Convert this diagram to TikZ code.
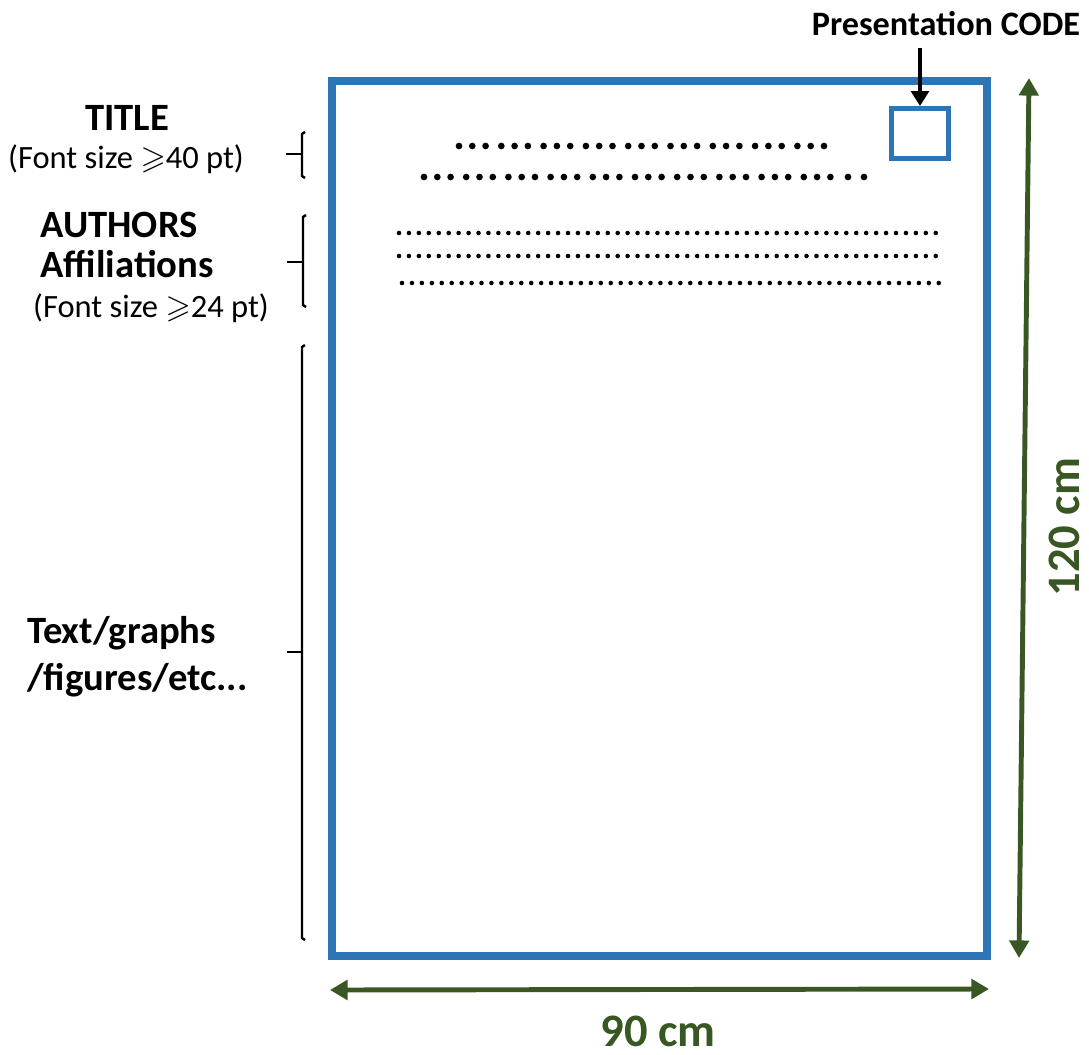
\documentclass[tikz,border=0pt]{standalone}
\usepackage{amssymb}
\usepackage{fontspec}
\setmainfont{Carlito}
\usetikzlibrary{arrows.meta,positioning}
\definecolor{posterblue}{RGB}{46,117,182}
\definecolor{dimgreen}{RGB}{56,87,35}

\begin{document}
\begin{tikzpicture}[x=0.02cm,y=-0.02cm,
	lbl/.style={inner sep=0pt,anchor=base,font=\fontsize{22}{26.6}\selectfont\bfseries},
	sz/.style={inner sep=0pt,anchor=base,font=\fontsize{18.5}{22}\selectfont},
	brk/.style={line width=1.4pt},
	dim/.style={dimgreen,line width=2.8pt,{Triangle[length=10pt,width=11pt]}-{Triangle[length=10pt,width=11pt]}},
	dimlbl/.style={inner sep=0pt,dimgreen,font=\fontsize{26.5}{30}\selectfont\bfseries}]
\useasboundingbox (0,0) rectangle (1089,1055);
%poster sheet
\draw [posterblue,line width=4.5pt] (332,81) rectangle (987,956);
\node [draw=posterblue,line width=2.8pt,minimum width=1.14cm,minimum height=1cm,inner sep=0pt] (code) at (920,133.5) {};
\node [inner sep=0pt,anchor=base,font=\fontsize{19.5}{22}\selectfont\bfseries] (codelbl) at (946,35) {Presentation CODE};
\draw [line width=2.3pt,-{Triangle[length=8.5pt,width=10pt]},shorten <=7pt] (codelbl.south -| code.north) -- (code.north);
%title dots
\foreach \g in {0,...,8}{
	\foreach \d in {0,1,2}{
		\fill (459+42.3*\g+13.3*\d,146) circle (1.9pt);
	}
}
\foreach \g in {0,...,9}{
	\foreach \d in {0,1,2}{
		\fill (424+42.2*\g+13.3*\d,177) circle (1.9pt);
	}
}
\foreach \x in {848,864}{
	\fill (\x,177) circle (1.9pt);
}
%author dots
\foreach \y/\s in {233/399,256/399,283/402}{
	\foreach \i in {0,...,54}{
		\fill (\s+9.94*\i,\y) circle (1.3pt);
	}
}
%labels on the left
\node [lbl] (title) at (127,130) {TITLE};
\node [sz] (titlesz) at (126,168) {(Font size $\geqslant$40 pt)};
\node [lbl] (authors) at (119,237) {AUTHORS};
\node [lbl] (affil) at (127,277) {Affiliations};
\node [sz] (authsz) at (151,317) {(Font size $\geqslant$24 pt)};
\node [lbl,anchor=base west,align=left] (body) at (27,690) {Text/graphs\\/figures/etc...};
%brackets
\draw [brk] (305,132) -- (302,134) -- (302,176) -- (305,178);
\draw [brk] (286,154) -- (302,154);
\draw [brk] (306,215) -- (303,217) -- (303,305) -- (306,307);
\draw [brk] (287,262) -- (303,262);
\draw [brk] (305,345) -- (302,347) -- (302,938) -- (305,940);
\draw [brk] (287,652) -- (302,652);
%sizes
\coordinate (vtop) at (1029,78);
\coordinate (vbot) at (1019,958);
\draw [dim] (vbot) -- (vtop);
\node [dimlbl,rotate=90] (height) at (1064,527) {120 cm};
\coordinate (hleft) at (330,990);
\coordinate (hright) at (989,989);
\draw [dim] (hleft) -- (hright);
\node [dimlbl] (width) at (658,1031) {90 cm};
\end{tikzpicture}
\end{document}
